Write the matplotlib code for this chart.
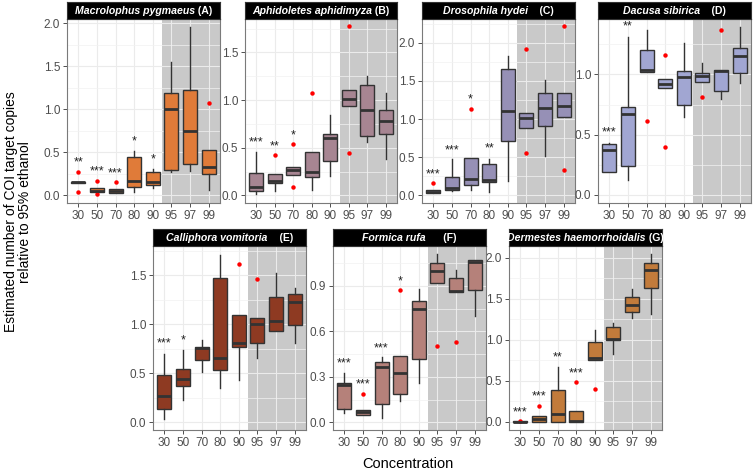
import matplotlib
matplotlib.use("Agg")
import matplotlib.pyplot as plt
from matplotlib.offsetbox import TextArea, HPacker, AnchoredOffsetbox
from matplotlib.ticker import MultipleLocator

plt.rcParams['font.family'] = ['Liberation Sans', 'DejaVu Sans']

conc = ['30', '50', '70', '80', '90', '95', '97', '99']

# (A) Macrolophus pygmaeus
A_lo  = [0.14, 0.04, 0.03, 0.035, 0.08, 0.27, 0.28, 0.06]
A_q1  = [0.14, 0.04, 0.03, 0.10, 0.12, 0.29, 0.36, 0.245]
A_med = [0.15, 0.055, 0.05, 0.17, 0.16, 1.00, 0.75, 0.33]
A_q3  = [0.16, 0.08, 0.07, 0.45, 0.27, 1.19, 1.23, 0.53]
A_hi  = [0.16, 0.08, 0.07, 0.51, 0.30, 1.55, 1.96, 0.53]
A_out = [[0.275, 0.04], [0.167, 0.01], [0.15], [], [], [], [], [1.07]]
A_sig = ['**', '***', '***', '*', '*', '', '', '']
A_sig_y = [0.42, 0.31, 0.29, 0.66, 0.45, 0, 0, 0]

# (B) Aphidoletes aphidimyza
B_lo  = [0.014, 0.05, 0.215, 0.06, 0.20, 0.94, 0.56, 0.38]
B_q1  = [0.045, 0.125, 0.215, 0.19, 0.36, 0.94, 0.62, 0.645]
B_med = [0.085, 0.155, 0.27, 0.24, 0.60, 1.01, 0.90, 0.78]
B_q3  = [0.235, 0.22, 0.295, 0.45, 0.64, 1.11, 1.16, 0.90]
B_hi  = [0.455, 0.22, 0.295, 0.45, 0.845, 1.11, 1.25, 1.075]
B_out = [[], [0.42], [0.54, 0.085], [1.075], [], [1.78, 0.44], [], []]
B_sig = ['***', '**', '*', '', '', '', '', '']
B_sig_y = [0.59, 0.54, 0.665, 0, 0, 0, 0, 0]

# (C) Drosophila hydei
C_lo  = [0.03, 0.06, 0.065, 0.05, 0.19, 0.88, 0.51, 1.03]
C_q1  = [0.03, 0.075, 0.13, 0.18, 0.71, 0.88, 0.905, 1.03]
C_med = [0.05, 0.09, 0.22, 0.205, 1.10, 1.01, 1.14, 1.165]
C_q3  = [0.065, 0.245, 0.495, 0.41, 1.66, 1.085, 1.34, 1.34]
C_hi  = [0.065, 0.47, 0.495, 0.48, 1.83, 1.085, 1.51, 1.34]
C_out = [[0.166], [], [1.13], [], [], [1.92, 0.555], [], [2.22, 0.33]]
C_sig = ['***', '***', '*', '**', '', '', '', '']
C_sig_y = [0.315, 0.63, 1.29, 0.66, 0, 0, 0, 0]

# (D) Dacusa sibirica
D_lo  = [0.19, 0.12, 1.02, 0.89, 0.65, 0.935, 0.80, 0.93]
D_q1  = [0.19, 0.24, 1.02, 0.89, 0.75, 0.935, 0.86, 1.01]
D_med = [0.37, 0.67, 1.036, 0.92, 0.98, 0.99, 1.03, 1.15]
D_q3  = [0.42, 0.73, 1.20, 0.965, 1.025, 1.01, 1.04, 1.22]
D_hi  = [0.43, 1.31, 1.37, 0.965, 1.26, 1.095, 1.04, 1.395]
D_out = [[], [], [0.615], [1.165, 0.40], [], [0.815], [1.37], []]
D_sig = ['***', '**', '', '', '', '', '', '']
D_sig_y = [0.54, 1.42, 0, 0, 0, 0, 0, 0]

# (E) Calliphora vomitoria
E_lo  = [0.037, 0.23, 0.517, 0.347, 0.43, 0.653, 0.93, 0.813]
E_q1  = [0.13, 0.367, 0.633, 0.537, 0.765, 0.806, 0.93, 0.997]
E_med = [0.27, 0.445, 0.76, 0.653, 0.806, 1.00, 1.037, 1.23]
E_q3  = [0.486, 0.54, 0.77, 1.47, 1.10, 1.065, 1.28, 1.31]
E_hi  = [0.70, 0.74, 0.84, 1.71, 1.10, 1.065, 1.52, 1.367]
E_out = [[], [], [], [], [1.62], [1.466], [], []]
E_sig = ['***', '*', '', '', '', '', '', '']
E_sig_y = [0.83, 0.87, 0, 0, 0, 0, 0, 0]

# (F) Formica rufa
F_lo  = [0.064, 0.046, 0.03, 0.143, 0.257, 0.92, 0.863, 0.70]
F_q1  = [0.09, 0.046, 0.12, 0.189, 0.42, 0.92, 0.863, 0.876]
F_med = [0.246, 0.07, 0.366, 0.327, 0.746, 1.00, 0.867, 1.058]
F_q3  = [0.261, 0.079, 0.40, 0.44, 0.80, 1.05, 0.955, 1.073]
F_hi  = [0.323, 0.079, 0.432, 0.44, 0.88, 1.108, 1.007, 1.073]
F_out = [[], [0.189], [], [0.87], [], [0.503], [0.529], []]
F_sig = ['***', '***', '***', '*', '', '', '', '']
F_sig_y = [0.406, 0.27, 0.51, 0.95, 0, 0, 0, 0]

# (G) Dermestes haemorrhoidalis
G_lo  = [0.0, 0.0, 0.0, 0.0, 0.756, 0.82, 1.264, 1.313]
G_q1  = [0.0, 0.0, 0.0, 0.0, 0.756, 0.99, 1.333, 1.63]
G_med = [0.0, 0.037, 0.10, 0.01, 0.78, 1.004, 1.427, 1.85]
G_q3  = [0.01, 0.065, 0.386, 0.13, 0.97, 1.15, 1.52, 1.935]
G_hi  = [0.01, 0.065, 0.67, 0.13, 1.12, 1.203, 1.62, 2.037]
G_out = [[0.015], [0.195], [], [0.48], [0.40], [], [], []]
G_sig = ['***', '***', '**', '***', '', '', '', '']
G_sig_y = [0.15, 0.34, 0.82, 0.63, 0, 0, 0, 0]

W, H = 753, 472
fig = plt.figure(figsize=(W / 100, H / 100), dpi=100)


def rect(l, t, r, b):
    return [l / W, 1 - b / H, (r - l) / W, (b - t) / H]


def strip(l, r, t, b, species, letter):
    sax = fig.add_axes(rect(l, t, r, b))
    sax.set_facecolor('black')
    sax.set_xticks([])
    sax.set_yticks([])
    for s in sax.spines.values():
        s.set_color('#333333')
        s.set_linewidth(0.8)
    t1 = TextArea(species, textprops=dict(color='white', fontsize=7.6,
                                          fontweight='bold', fontstyle='italic'))
    t2 = TextArea(letter, textprops=dict(color='white', fontsize=7.6,
                                         fontweight='bold'))
    box = HPacker(children=[t1, t2], align='baseline', pad=0, sep=0)
    anc = AnchoredOffsetbox(loc='center', child=box, frameon=False, pad=0,
                            borderpad=0)
    sax.add_artist(anc)


def panel(pos, lo, q1, med, q3, hi, out, sig, sig_y, color,
          ylim, ymajor, species, letter):
    l, t, r, b = pos
    ax = fig.add_axes(rect(l, t, r, b))
    stats = []
    for i in range(len(conc)):
        stats.append(dict(whislo=lo[i], q1=q1[i], med=med[i], q3=q3[i],
                          whishi=hi[i], fliers=out[i]))
    ax.axvspan(5.5, 8.6, color='#C9C9C9', zorder=0.2, lw=0)
    ax.bxp(stats, positions=range(1, 9), widths=0.75, patch_artist=True,
           showcaps=False,
           boxprops=dict(facecolor=color, edgecolor='#333333', linewidth=1.0),
           medianprops=dict(color='#333333', linewidth=2.0),
           whiskerprops=dict(color='#333333', linewidth=1.0),
           flierprops=dict(marker='o', markerfacecolor='red',
                           markeredgecolor='none', markersize=3.2))
    for i, s in enumerate(sig):
        if s:
            ax.annotate(s, xy=(i + 1, sig_y[i]), xytext=(0, -4.3),
                        textcoords='offset points', ha='center',
                        va='baseline', fontsize=9, color='#222222')
    ax.set_xlim(0.4, 8.6)
    ax.set_ylim(*ylim)
    ax.set_xticks(range(1, 9))
    ax.set_xticklabels(conc)
    ax.yaxis.set_major_locator(MultipleLocator(ymajor))
    ax.yaxis.set_minor_locator(MultipleLocator(ymajor / 2))
    ax.yaxis.set_major_formatter(lambda v, p: f'{v:.1f}')
    ax.set_axisbelow(True)
    ax.grid(which='major', color='#EBEBEB', lw=0.8)
    ax.grid(which='minor', axis='y', color='#F2F2F2', lw=0.5)
    ax.tick_params(which='major', length=3, width=0.6, color='#333333',
                   labelsize=8.5, labelcolor='#4D4D4D', pad=2)
    ax.tick_params(which='minor', length=0)
    for s in ax.spines.values():
        s.set_color('#7A7A7A')
        s.set_linewidth(0.8)
    strip(l, r, t - 17, t, species, letter)
    return ax


panel((67, 19, 220, 203), A_lo, A_q1, A_med, A_q3, A_hi, A_out, A_sig, A_sig_y,
      '#E07B39', (-0.09, 2.05), 0.5, 'Macrolophus pygmaeus', ' (A)')
panel((245, 19, 397, 203), B_lo, B_q1, B_med, B_q3, B_hi, B_out, B_sig, B_sig_y,
      '#A78592', (-0.08, 1.85), 0.5, 'Aphidoletes aphidimyza', ' (B)')
panel((422, 19, 575, 203), C_lo, C_q1, C_med, C_q3, C_hi, C_out, C_sig, C_sig_y,
      '#9690B6', (-0.1, 2.31), 0.5, 'Drosophila hydei', '    (C)')
panel((598, 19, 751, 203), D_lo, D_q1, D_med, D_q3, D_hi, D_out, D_sig, D_sig_y,
      '#A1A6D2', (-0.067, 1.46), 0.5, 'Dacusa sibirica', '    (D)')
panel((153, 246, 306, 430), E_lo, E_q1, E_med, E_q3, E_hi, E_out, E_sig, E_sig_y,
      '#8E3A22', (-0.08, 1.80), 0.5, 'Calliphora vomitoria', '    (E)')
panel((333, 246, 486, 430), F_lo, F_q1, F_med, F_q3, F_hi, F_out, F_sig, F_sig_y,
      '#B5817A', (-0.05, 1.163), 0.3, 'Formica rufa', '      (F)')
panel((509, 246, 662, 430), G_lo, G_q1, G_med, G_q3, G_hi, G_out, G_sig, G_sig_y,
      '#C27B3B', (-0.1, 2.14), 0.5, 'Dermestes haemorrhoidalis', ' (G)')

fig.text(408 / W, 1 - 464 / H, 'Concentration', ha='center', va='center',
         fontsize=10.5)
fig.text(18 / W, 1 - 212 / H,
         'Estimated number of COI target copies\nrelative to 95% ethanol',
         ha='center', va='center', rotation=90, fontsize=10,
         multialignment='center', linespacing=1.0)

fig.savefig('out.png', dpi=100)
